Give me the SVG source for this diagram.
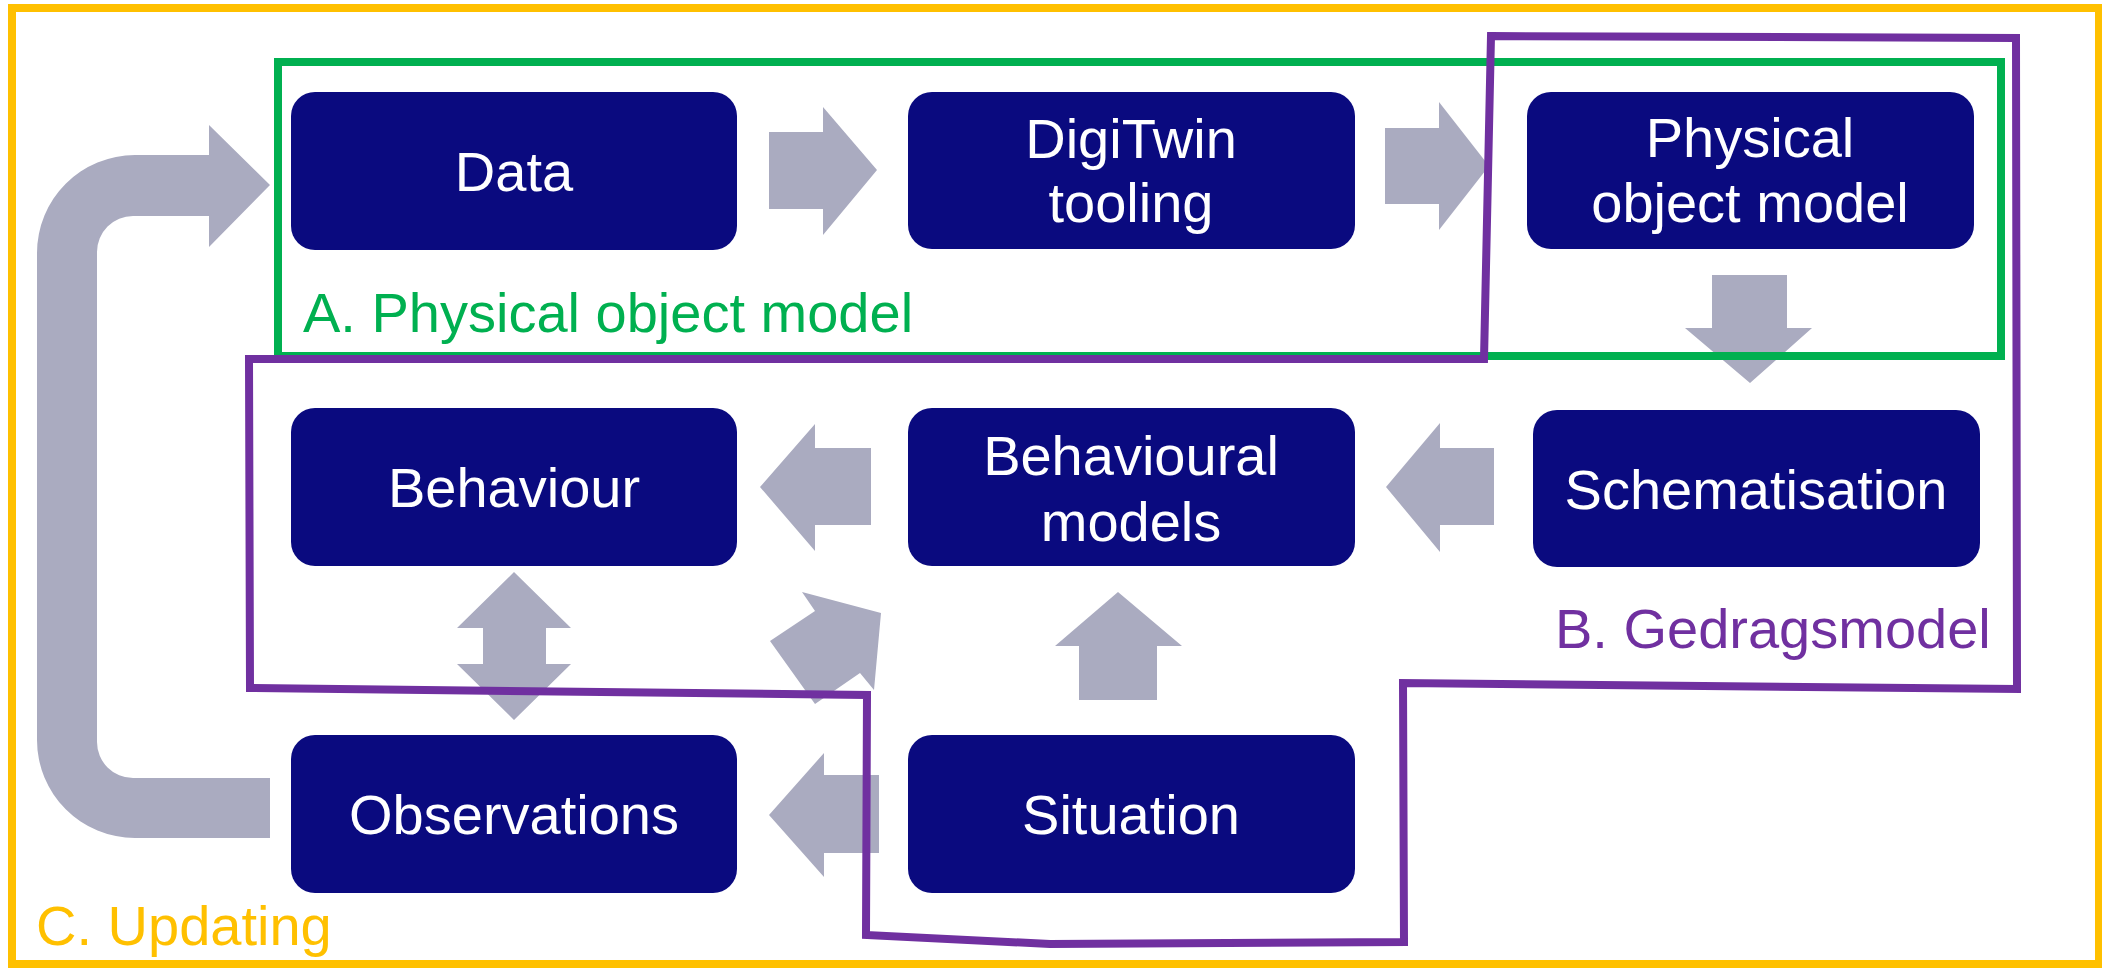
<svg xmlns="http://www.w3.org/2000/svg" width="2102" height="968" viewBox="0 0 2102 968">
  <style>
    .box { fill: #0A0A7F; }
    .lbl { fill: #FFFFFF; font-family: "Liberation Sans", Arial, sans-serif; font-size: 56px; text-anchor: middle; }
    .arr { fill: #AAABC0; stroke: none; }
    .frame { fill: none; stroke-width: 8; stroke-linejoin: miter; }
    .cap { font-family: "Liberation Sans", Arial, sans-serif; font-size: 56px; }
  </style>
  <rect x="0" y="0" width="2102" height="968" fill="#FFFFFF"/>
  <g id="frame-c">
    <rect x="12" y="8" width="2087" height="956" fill="none" stroke="#FFC000" stroke-width="8"/>
    <text class="cap" x="36" y="945" fill="#FFC000">C. Updating</text>
  </g>
  <g id="connectors">
    <polygon class="arr" points="769,132 823,132 823,107 877,170 823,235 823,209 769,209"/>
    <polygon class="arr" points="1385,128 1439,128 1439,102 1489,166 1439,230 1439,204 1385,204"/>
    <polygon class="arr" points="1712,275 1787,275 1787,328 1812,328 1750,383 1685,328 1712,328"/>
    <polygon class="arr" points="1494,448 1440,448 1440,423 1386,487 1440,552 1440,525 1494,525"/>
    <polygon class="arr" points="871,448 815,448 815,424 760,487 815,551 815,525 871,525"/>
    <polygon class="arr" points="514,572 571,628 546,628 546,664 571,664 514,720 457,664 483,664 483,628 457,628"/>
    <polygon class="arr" points="879,775 824,775 824,753 769,815 824,877 824,853 879,853"/>
    <polygon class="arr" points="1079,700 1079,646 1055,646 1118,592 1182,646 1157,646 1157,700"/>
    <polygon class="arr" points="881,613 802,592 815,611 770,641 815,704 860,673 874,690"/>
    <path class="arr" d="M270,838 L135,838 A98,98 0 0 1 37,740 L37,253 A98,98 0 0 1 135,155 L209,155 L209,125 L270,185 L209,247 L209,216 L133,216 A36,36 0 0 0 97,252 L97,742 A36,36 0 0 0 133,778 L270,778 Z"/>
  </g>
  <g id="node-data">
    <rect class="box" x="291" y="92" width="446" height="158" rx="24"/>
    <text class="lbl" x="514" y="191">Data</text>
  </g>
  <g id="node-digitwin">
    <rect class="box" x="908" y="92" width="447" height="157" rx="24"/>
    <text class="lbl" x="1131" y="158">DigiTwin</text>
    <text class="lbl" x="1131" y="222">tooling</text>
  </g>
  <g id="node-physical">
    <rect class="box" x="1527" y="92" width="447" height="157" rx="24"/>
    <text class="lbl" x="1750" y="157">Physical</text>
    <text class="lbl" x="1750" y="222">object model</text>
  </g>
  <g id="node-behaviour">
    <rect class="box" x="291" y="408" width="446" height="158" rx="24"/>
    <text class="lbl" x="514" y="507">Behaviour</text>
  </g>
  <g id="node-behavioural-models">
    <rect class="box" x="908" y="408" width="447" height="158" rx="24"/>
    <text class="lbl" x="1131" y="475">Behavioural</text>
    <text class="lbl" x="1131" y="541">models</text>
  </g>
  <g id="node-schematisation">
    <rect class="box" x="1533" y="410" width="447" height="157" rx="24"/>
    <text class="lbl" x="1756" y="509">Schematisation</text>
  </g>
  <g id="node-observations">
    <rect class="box" x="291" y="735" width="446" height="158" rx="24"/>
    <text class="lbl" x="514" y="834">Observations</text>
  </g>
  <g id="node-situation">
    <rect class="box" x="908" y="735" width="447" height="158" rx="24"/>
    <text class="lbl" x="1131" y="834">Situation</text>
  </g>
  <g id="frame-a">
    <rect class="frame" x="278" y="62" width="1723" height="294" stroke="#00B050"/>
    <text class="cap" x="303" y="332" fill="#00B050">A. Physical object model</text>
  </g>
  <g id="frame-b">
    <path class="frame" stroke="#7030A0" d="M1491,36 L2016,38 L2017,689 L1403,683 L1404,942 L1050,944 L866,935 L867,695 L250,688 L249,359 L1484,359 Z"/>
    <text class="cap" x="1555" y="648" fill="#7030A0">B. Gedragsmodel</text>
  </g>
</svg>
